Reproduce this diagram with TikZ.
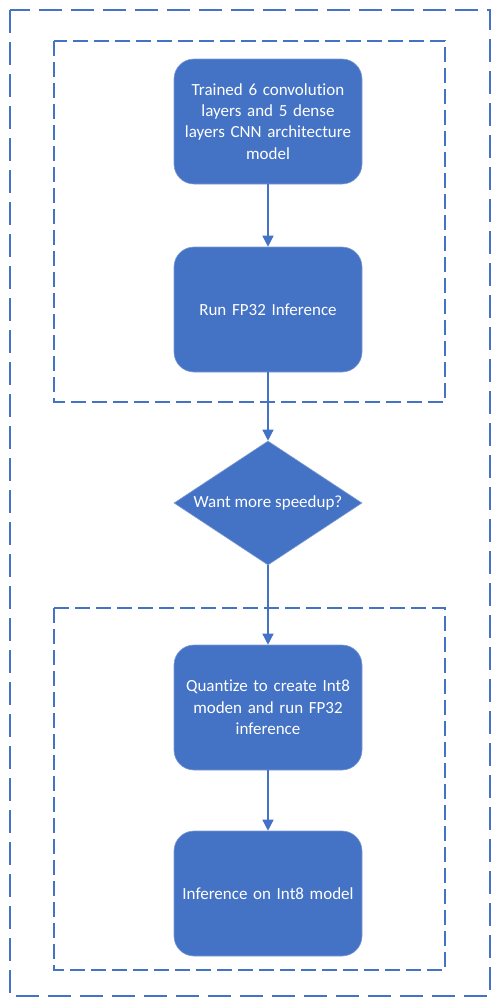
\documentclass[tikz,border=0pt]{standalone}
\usepackage{fontspec}
\setmainfont{Carlito}[Ligatures=NoCommon]
\usepackage{tikz}
\usetikzlibrary{arrows.meta, shapes.geometric}
\usepackage{xcolor}
\definecolor{flowBlue}{RGB}{68, 114, 196}
\definecolor{flowEdge}{RGB}{125, 155, 212}

\begin{document}
\begin{tikzpicture}[x=1pt, y=-1pt, font=\fontsize{17}{21.3}\selectfont,
  procbox/.style={rectangle, rounded corners=20pt, fill=flowBlue, draw=flowEdge,
    line width=0.6pt, text=white, align=center, text width=186pt,
    minimum width=188pt, minimum height=125pt, inner sep=0pt},
  decision/.style={diamond, aspect=1.52, fill=flowBlue, draw=flowEdge,
    line width=0.6pt, text=white, inner sep=0pt,
    minimum width=188pt, minimum height=124pt},
  flow/.style={flowBlue, line width=1.4pt, -{Triangle[width=11pt, length=11pt]}},
  outerdash/.style={flowBlue, line width=2pt, dash pattern=on 23pt off 9pt},
  innerdash/.style={flowBlue, line width=1.4pt, dash pattern=on 15pt off 6pt}]
  \useasboundingbox (0,0) rectangle (500,1007);

  % Dashed frames
  \draw[outerdash] (10,10) rectangle (490,996);
  \draw[innerdash] (54,41) rectangle (445,402);
  \draw[innerdash] (54,608) rectangle (445,970);

  % Steps
  \node[procbox] (trained) at (268,121.5)
    {Trained 6 convolution\\ layers and 5 dense\\ layers CNN architecture\\ model};
  \node[procbox] (fp32) at (268,309.5) {Run FP32 Inference};
  \node[decision] (speedup) at (268,503) {Want more speedup?};
  \node[procbox] (quant) at (268,707.5)
    {Quantize to create Int8\\ moden and run FP32\\ inference};
  \node[procbox] (int8) at (268,893.5) {Inference on Int8 model};

  % Connectors
  \draw[flow] (trained) -- (fp32);
  \draw[flow] (fp32) -- (speedup);
  \draw[flow] (speedup) -- (quant);
  \draw[flow] (quant) -- (int8);
\end{tikzpicture}
\end{document}
